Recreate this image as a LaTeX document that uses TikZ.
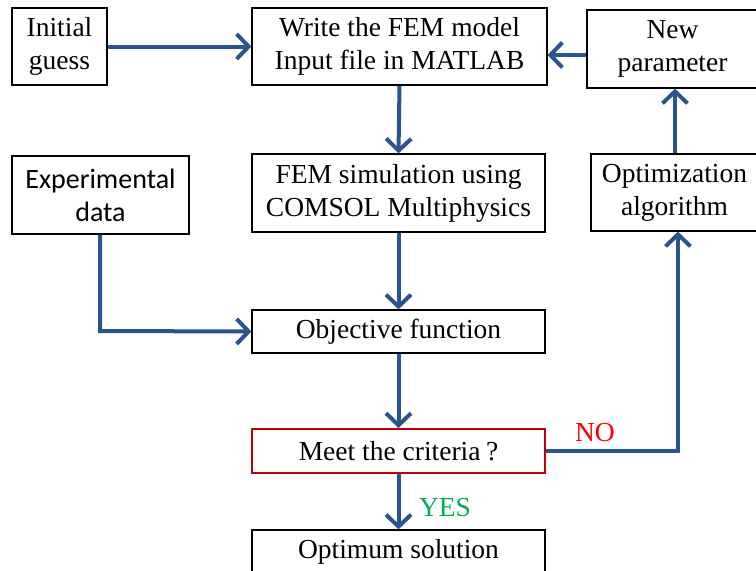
\documentclass[tikz,border=0pt]{standalone}
\usepackage{fontspec}
\setmainfont{Liberation Serif}
\newfontfamily\calib{Carlito}
\usetikzlibrary{arrows.meta}
\definecolor{arrblue}{RGB}{42,84,142}
\definecolor{boxred}{RGB}{192,0,0}
\definecolor{nored}{RGB}{255,0,0}
\definecolor{yesgreen}{RGB}{0,176,80}
\tikzset{
  box/.style={draw=black, line width=1.2pt, align=center, inner sep=0pt,
    font=\rmfamily\fontsize{27.5}{33}\selectfont},
  flow/.style={draw=arrblue, line width=4pt,
    -{Straight Barb[length=12pt,width=25pt,line width=4pt]}},
}
\begin{document}
\begin{tikzpicture}[x=1pt,y=1pt]
\useasboundingbox (0,0) rectangle (756,-571);
\clip (0,0) rectangle (756,-571);
\node[box, minimum width=95pt, minimum height=77pt] (init) at (59.5,-46.5) {Initial\\guess};
\node[box, minimum width=295pt, minimum height=77pt] (write) at (399.5,-46.5) {Write the FEM model\\Input file in MATLAB};
\node[box, minimum width=173pt, minimum height=78pt, text width=165pt] (newp) at (673.5,-49) {\hspace*{-2pt}New\\\hspace*{-2pt}parameter};
\node[box, minimum width=177pt, minimum height=78pt, font=\calib\fontsize{28}{33}\selectfont] (exp) at (100.5,-195) {Experimental\\data};
\node[box, minimum width=293pt, minimum height=78pt] (fem) at (398.5,-193) {FEM simulation using\\COMSOL Multiphysics};
\node[box, minimum width=169pt, minimum height=77pt, text width=160pt] (opt) at (675.5,-192.5) {\hspace*{-2pt}Optimization\\\hspace*{-2pt}algorithm};
\node[box, minimum width=293pt, minimum height=43pt] (obj) at (398.5,-331.5) {Objective function};
\node[box, draw=boxred, line width=2pt, minimum width=293pt, minimum height=44pt] (meet) at (398.5,-451) {Meet the criteria\hspace{0.2em}?};
\node[box, minimum width=293pt, minimum height=44pt] (sol) at (398.5,-552) {Optimum solution};
\coordinate (expturn) at (100,-331);
\coordinate (noturn) at (678,-451);
\coordinate (npa) at ([yshift=-6pt]newp.west);
\coordinate (upx) at (675,0);
\draw[flow] (init.east) -- (write.west);
\draw[flow] (npa) -- (write.east |- npa);
\draw[flow] (write.south) -- (fem.north);
\draw[flow] (fem.south) -- (obj.north);
\draw[flow] (exp.south -| expturn) -- (expturn) -- (obj.west);
\draw[flow] (obj.south) -- (meet.north);
\draw[flow] (meet.south) -- (sol.north);
\draw[flow] (meet.east) -- (noturn) -- (noturn |- opt.south);
\draw[flow] (opt.north -| upx) -- (upx |- newp.south);
\node[text=nored, font=\rmfamily\fontsize{27.5}{30}\selectfont] (no) at (595,-433) {NO};
\node[text=yesgreen, font=\rmfamily\fontsize{27.5}{30}\selectfont] (yes) at (445,-508) {YES};
\end{tikzpicture}
\end{document}
